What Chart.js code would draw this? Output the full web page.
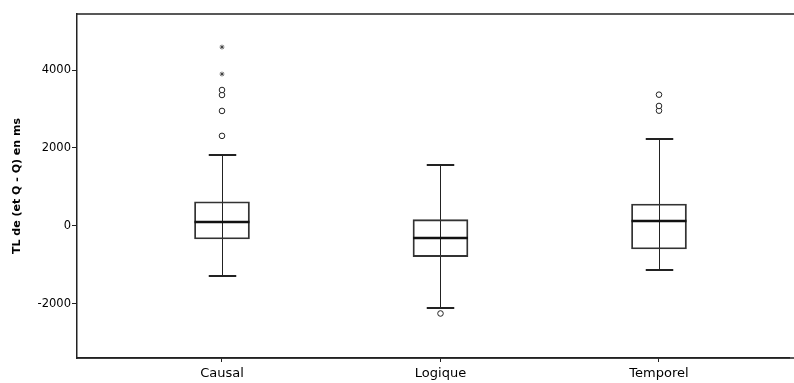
<!DOCTYPE html>
<html>
<head>
<meta charset="utf-8">
<script src="https://cdn.jsdelivr.net/npm/chart.js@4/dist/chart.umd.min.js"></script>
<style>
  html, body { margin: 0; padding: 0; background: #fff; overflow: hidden; }
  canvas { display: block; }
</style>
</head>
<body>
<canvas id="myChart" width="794" height="383"></canvas>
<script>
// data (ms)
const categories = ["Causal", "Logique", "Temporel"];
const lowWhisker = [-1300, -2110, -1146];
const q1 = [-341, -795, -597];
const median = [85, -326, 110];
const q3 = [615, 154, 556];
const highWhisker = [1820, 1572, 2223];
const circleOutliers = [[2308, 2949, 3359, 3487], [-2256], [2956, 3077, 3367]];
const starOutliers = [[3897, 4590], [], []];
const yTicks = [-2000, 0, 2000, 4000];

const boxWidth = 55;
const lineColor = "#222";

// build points for the library
var boxData = categories.map((c, i) => ({ x: i + 1, y: [q1[i], q3[i]] }));
var circleData = [];
var starData = [];
for (let i = 0; i < categories.length; i++) {
  circleOutliers[i].forEach((v) => circleData.push({ x: i + 1, y: v }));
  starOutliers[i].forEach((v) => starData.push({ x: i + 1, y: v }));
}

// whiskers, medians and frame
const boxPlugin = {
  id: "boxParts",
  beforeDatasetsDraw(chart) {
    const ctx = chart.ctx;
    const xs = chart.scales.x;
    const ys = chart.scales.y;
    ctx.save();
    ctx.strokeStyle = lineColor;
    for (let i = 0; i < categories.length; i++) {
      const x = Math.round(xs.getPixelForValue(i + 1)) + 0.5;
      const yl = Math.round(ys.getPixelForValue(lowWhisker[i]));
      const yh = Math.round(ys.getPixelForValue(highWhisker[i]));
      ctx.lineWidth = 1;
      ctx.beginPath();
      ctx.moveTo(x, yl);
      ctx.lineTo(x, yh);
      ctx.stroke();
      ctx.lineWidth = 2;
      ctx.beginPath();
      ctx.moveTo(x - boxWidth / 4, yl);
      ctx.lineTo(x + boxWidth / 4, yl);
      ctx.moveTo(x - boxWidth / 4, yh);
      ctx.lineTo(x + boxWidth / 4, yh);
      ctx.stroke();
    }
    ctx.restore();
  },
  afterDatasetsDraw(chart) {
    const ctx = chart.ctx;
    const xs = chart.scales.x;
    const ys = chart.scales.y;
    const area = chart.chartArea;
    ctx.save();
    ctx.strokeStyle = "#111";
    ctx.lineWidth = 2.5;
    for (let i = 0; i < categories.length; i++) {
      const x = xs.getPixelForValue(i + 1);
      const y = Math.round(ys.getPixelForValue(median[i]));
      ctx.beginPath();
      ctx.moveTo(x - boxWidth / 2, y);
      ctx.lineTo(x + boxWidth / 2, y);
      ctx.stroke();
    }
    // top and bottom of frame, out to the canvas edge
    ctx.strokeStyle = "#222";
    ctx.lineWidth = 1.5;
    ctx.beginPath();
    ctx.moveTo(area.left, area.top);
    ctx.lineTo(chart.width, area.top);
    ctx.moveTo(area.left, area.bottom);
    ctx.lineTo(chart.width, area.bottom);
    ctx.stroke();
    ctx.restore();
  },
};

new Chart("myChart", {
  type: "bar",
  data: {
    datasets: [
      {
        type: "bar",
        data: boxData,
        backgroundColor: "rgba(0,0,0,0)",
        borderColor: "#333",
        borderWidth: 1.2,
        borderSkipped: false,
        barThickness: boxWidth,
      },
      {
        type: "scatter",
        data: circleData,
        pointStyle: "circle",
        pointRadius: 2.8,
        backgroundColor: "#fff",
        borderColor: "#222",
        borderWidth: 1,
      },
      {
        type: "scatter",
        data: starData,
        pointStyle: "star",
        pointRadius: 2.4,
        backgroundColor: "#333",
        borderColor: "#333",
        borderWidth: 0.8,
      },
    ],
  },
  options: {
    responsive: false,
    animation: false,
    layout: { padding: { top: 14, right: 0, left: 0, bottom: 0 } },
    plugins: {
      legend: { display: false },
      tooltip: { enabled: false },
    },
    scales: {
      x: {
        type: "linear",
        offset: false,
        min: 0.3364,
        max: 3.595,
        afterBuildTicks: (scale) => {
          scale.ticks = categories.map((c, i) => ({ value: i + 1 }));
        },
        afterFit: (scale) => {
          scale.height = 25;
        },
        ticks: {
          callback: (v) => categories[v - 1],
          color: "#000",
          font: { family: "DejaVu Sans", size: 13 },
          padding: 4,
          maxRotation: 0,
        },
        grid: { offset: false, drawOnChartArea: false, drawTicks: true, tickLength: 4, color: "#222" },
        border: { display: true, color: "#222", width: 1.5 },
      },
      y: {
        type: "linear",
        min: -3400,
        max: 5440,
        afterBuildTicks: (scale) => {
          scale.ticks = yTicks.map((v) => ({ value: v }));
        },
        afterFit: (scale) => {
          scale.width = 77;
        },
        ticks: {
          callback: (v) => String(v),
          color: "#000",
          font: { family: "DejaVu Sans", size: 11.5 },
          padding: 1,
        },
        grid: { drawOnChartArea: false, drawTicks: true, tickLength: 5, color: "#222" },
        border: { display: true, color: "#222", width: 1.5 },
        title: {
          display: true,
          text: "TL de (et Q - Q) en ms",
          color: "#000",
          font: { family: "DejaVu Sans", size: 11, weight: "bold" },
          padding: { top: 11, bottom: 0 },
        },
      },
    },
  },
  plugins: [boxPlugin],
});
</script>
</body>
</html>
